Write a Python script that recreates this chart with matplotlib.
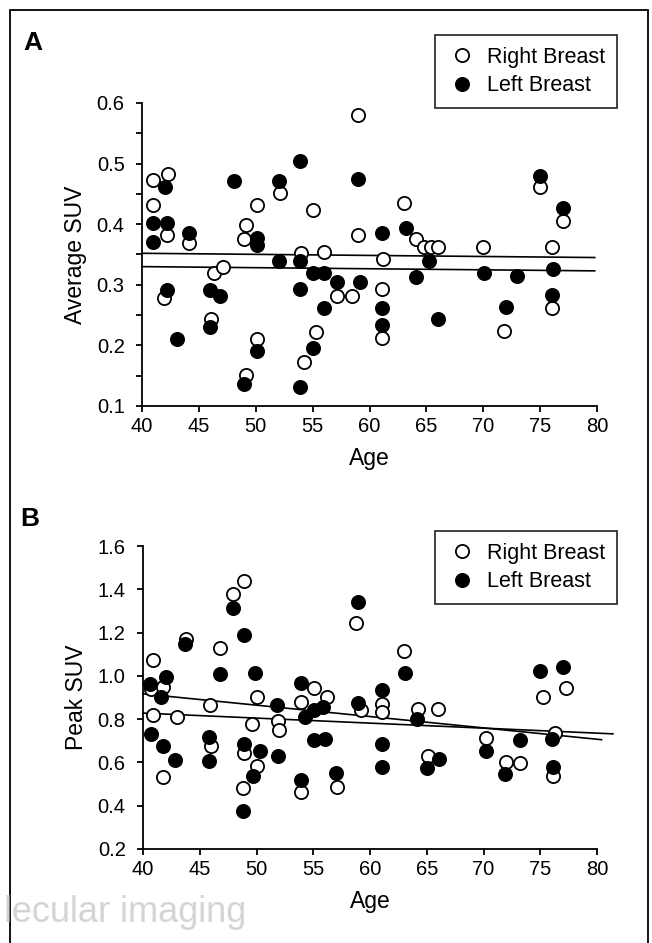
import matplotlib
matplotlib.use("Agg")
import matplotlib.pyplot as plt
from matplotlib.patches import Rectangle
from matplotlib.ticker import MultipleLocator

plt.rcParams['font.family'] = ['Liberation Sans', 'DejaVu Sans']

# ---------------- Panel A: Average SUV ----------------
a_right_age = [41.0, 42.3, 41.0, 42.2, 41.9, 44.1, 46.3, 47.1, 46.1, 49.1, 49.0, 50.1,
               50.1, 49.1, 52.1, 54.0, 55.0, 55.3, 54.2, 56.0, 57.1, 58.5, 59.0, 59.0,
               61.2, 61.1, 61.1, 63.0, 64.1, 64.8, 65.4, 66.0, 70.0, 71.8, 75.0, 76.0,
               76.0, 77.0]
a_right_suv = [0.473, 0.483, 0.432, 0.383, 0.278, 0.369, 0.319, 0.330, 0.243, 0.399, 0.376, 0.432,
               0.211, 0.151, 0.451, 0.352, 0.423, 0.222, 0.172, 0.354, 0.281, 0.281, 0.581, 0.383,
               0.343, 0.293, 0.212, 0.435, 0.376, 0.362, 0.362, 0.362, 0.363, 0.224, 0.461, 0.363,
               0.261, 0.405]
a_left_age = [41.0, 41.0, 42.0, 42.2, 42.2, 43.1, 44.1, 46.0, 46.9, 46.0, 48.1, 50.1,
              50.1, 50.1, 49.0, 52.0, 52.0, 53.9, 53.9, 53.9, 53.9, 55.0, 56.0, 56.0,
              57.1, 59.0, 59.2, 55.0, 61.1, 61.1, 61.1, 63.2, 64.1, 65.2, 66.0, 70.1,
              72.0, 73.0, 75.0, 76.1, 76.0, 77.0]
a_left_suv = [0.402, 0.370, 0.461, 0.402, 0.292, 0.211, 0.385, 0.292, 0.282, 0.230, 0.472, 0.377,
              0.366, 0.191, 0.137, 0.472, 0.340, 0.504, 0.340, 0.293, 0.132, 0.320, 0.320, 0.261,
              0.304, 0.474, 0.304, 0.195, 0.385, 0.261, 0.234, 0.394, 0.313, 0.340, 0.243, 0.320,
              0.264, 0.315, 0.479, 0.326, 0.283, 0.427]
# regression lines (x range, y at ends)
a_fit_x = [40.0, 79.8]
a_fit_right = [0.352, 0.345]
a_fit_left = [0.330, 0.323]

# ---------------- Panel B: Peak SUV ----------------
b_right_age = [40.9, 40.9, 41.8, 43.0, 43.8, 45.9, 46.0, 46.8, 47.9, 48.9, 48.9, 48.8,
               50.0, 49.6, 50.0, 51.9, 52.0, 53.9, 53.9, 55.1, 56.2, 57.1, 58.8, 59.2,
               40.7, 41.8,
               61.1, 61.1, 63.0, 64.2, 66.0, 65.1, 70.2, 72.0, 73.2, 75.2, 77.3, 76.3,
               76.1]
b_right_suv = [1.074, 0.817, 0.532, 0.812, 1.169, 0.866, 0.674, 1.128, 1.378, 1.440, 0.643, 0.482,
               0.902, 0.777, 0.585, 0.792, 0.751, 0.878, 0.463, 0.943, 0.902, 0.485, 1.243, 0.843,
               0.940, 0.950,
               0.871, 0.831, 1.117, 0.846, 0.846, 0.631, 0.715, 0.600, 0.597, 0.902, 0.943, 0.738,
               0.535]
b_left_age = [40.6, 42.0, 41.6, 40.7, 41.8, 42.8, 43.7, 45.8, 45.8, 46.8, 47.9, 48.9,
              49.9, 48.9, 50.3, 49.7, 48.8, 51.8, 51.9, 53.9, 53.9, 54.3, 55.1, 55.9,
              55.1, 56.0, 57.0, 58.9, 58.9,
              61.1, 61.1, 61.1, 63.1, 64.1, 65.0, 66.1, 70.2, 71.9, 73.2, 75.0, 77.0,
              76.0, 76.1]
b_left_suv = [0.963, 0.994, 0.902, 0.731, 0.674, 0.612, 1.148, 0.717, 0.605, 1.009, 1.312, 1.189,
              1.015, 0.686, 0.654, 0.535, 0.374, 0.866, 0.628, 0.969, 0.520, 0.812, 0.840, 0.858,
              0.705, 0.709, 0.551, 1.343, 0.876,
              0.935, 0.686, 0.578, 1.015, 0.800, 0.574, 0.617, 0.655, 0.548, 0.705, 1.023, 1.043,
              0.709, 0.578]
b_fit1_x = [40.0, 80.4]
b_fit1_y = [0.917, 0.705]
b_fit2_x = [40.0, 81.4]
b_fit2_y = [0.828, 0.732]

x_ticks = [40, 45, 50, 55, 60, 65, 70, 75, 80]

W, H = 652, 943
fig = plt.figure(figsize=(W / 100, H / 100), dpi=100)
fig.patch.set_facecolor('white')

# outer frame
fig.add_artist(Rectangle((10 / W, -0.02), (648 - 10) / W, 1 - 10 / H + 0.02,
                         transform=fig.transFigure, fill=False, edgecolor='black',
                         linewidth=1.3, zorder=0))

def px_axes(left, right, top, bottom):
    return fig.add_axes([left / W, 1 - bottom / H, (right - left) / W, (bottom - top) / H])

axA = px_axes(142, 597, 103, 406)
axB = px_axes(143, 597, 546, 849)

ms = 9.5
mew = 1.3

def style(ax):
    for s in ['top', 'right']:
        ax.spines[s].set_visible(False)
    for s in ['left', 'bottom']:
        ax.spines[s].set_linewidth(1.3)
    ax.tick_params(which='both', direction='out', length=4.5, width=1.3, labelsize=14.5)
    ax.tick_params(axis='x', which='both', pad=3.5)
    ax.tick_params(axis='y', which='both', pad=8)
    ax.set_xlim(40, 80)
    ax.set_xticks(x_ticks)

def draw(ax, rx, ry, lx, ly, lines):
    for (xs, ys) in lines:
        ax.plot(xs, ys, color='black', linewidth=1.2, zorder=2, clip_on=False)
    ax.plot(rx, ry, 'o', markersize=ms, markerfacecolor='white', markeredgecolor='black',
            markeredgewidth=mew, linestyle='none', zorder=3, clip_on=False, label='Right Breast')
    ax.plot(lx, ly, 'o', markersize=ms, markerfacecolor='black', markeredgecolor='black',
            markeredgewidth=mew, linestyle='none', zorder=4, clip_on=False, label='Left Breast')

# Panel A
draw(axA, a_right_age, a_right_suv, a_left_age, a_left_suv,
     [(a_fit_x, a_fit_right), (a_fit_x, a_fit_left)])
style(axA)
axA.set_ylim(0.1, 0.6)
axA.yaxis.set_major_locator(MultipleLocator(0.1))
axA.yaxis.set_minor_locator(MultipleLocator(0.05))
axA.set_yticklabels([f'{v:.1f}' for v in axA.get_yticks()])
axA.set_xlabel('Age', fontsize=16.5, labelpad=8)
axA.set_ylabel('Average SUV', fontsize=16.5, labelpad=7)

# Panel B
draw(axB, b_right_age, b_right_suv, b_left_age, b_left_suv,
     [(b_fit1_x, b_fit1_y), (b_fit2_x, b_fit2_y)])
style(axB)
axB.set_ylim(0.2, 1.6)
axB.yaxis.set_major_locator(MultipleLocator(0.2))
axB.set_yticklabels([f'{v:.1f}' for v in axB.get_yticks()])
axB.set_xlabel('Age', fontsize=16.5, labelpad=8)
axB.set_ylabel('Peak SUV', fontsize=16.5, labelpad=7)

for ax, top in [(axA, 35), (axB, 531)]:
    leg = ax.legend(loc='upper right', bbox_to_anchor=(617 / W, 1 - top / H),
                    bbox_transform=fig.transFigure, frameon=True, fancybox=False,
                    fontsize=15.5, handletextpad=0.45, handlelength=1.4,
                    borderpad=0.55, labelspacing=0.35, borderaxespad=0)
    leg.get_frame().set_edgecolor('black')
    leg.get_frame().set_linewidth(1.3)

fig.text(33 / W, 1 - 43 / H, 'A', fontsize=19, fontweight='bold', ha='center', va='center')
fig.text(30 / W, 1 - 519 / H, 'B', fontsize=19, fontweight='bold', ha='center', va='center')

# faint publisher watermark (only its visible part)
fig.text(4 / W, 1 - 912 / H, 'lecular imaging', fontsize=26, color='#d4d4d4',
         ha='left', va='center', zorder=0)

fig.savefig('out.png', dpi=100)
